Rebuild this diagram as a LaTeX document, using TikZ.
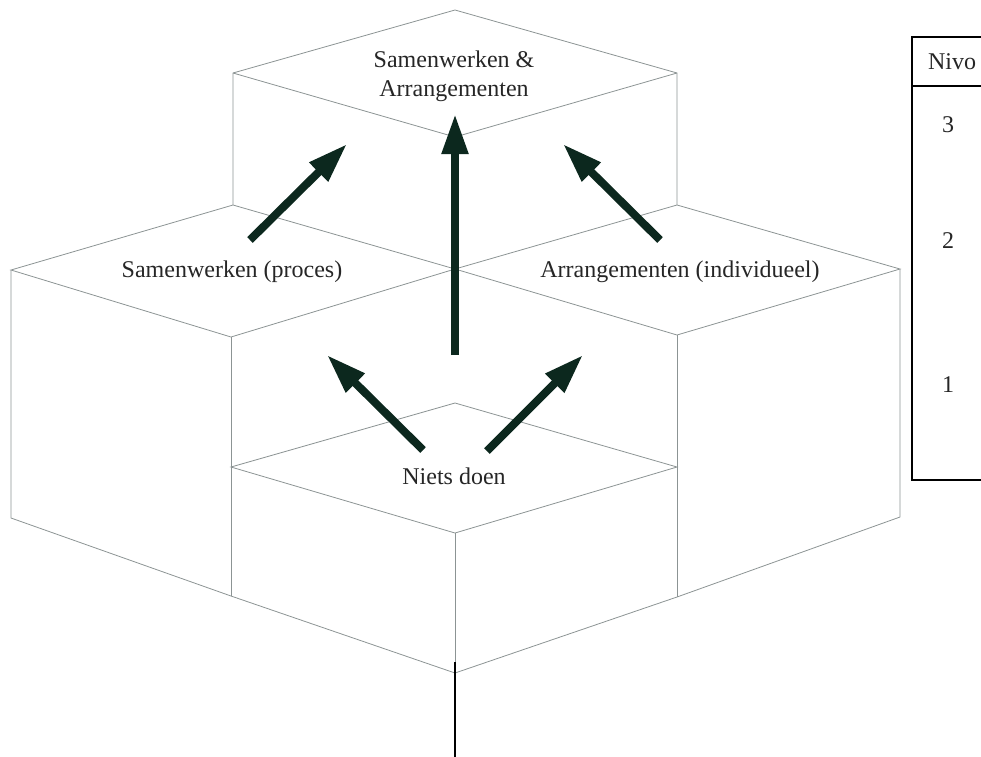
\documentclass[tikz,border=0pt]{standalone}
\usepackage{fontspec}
\setmainfont{Liberation Serif}
\usetikzlibrary{arrows.meta}
\definecolor{edgecol}{RGB}{140,148,148}
\definecolor{arrcol}{RGB}{12,40,30}
\tikzset{
  edge/.style={draw=edgecol, line width=0.8pt, line join=miter},
  bigarrow/.style={draw=arrcol, line width=8pt, -{Triangle[length=40pt,width=25pt]}, arrcol},
  lbl/.style={font=\fontsize{24}{29}\selectfont, text=black!85, inner sep=0pt, align=center},
  tab/.style={draw=black, line width=2.8pt}
}
\begin{document}
\begin{tikzpicture}[x=1pt,y=-1pt]
\useasboundingbox (0,0) rectangle (981,756);
\clip (0,0) rectangle (981,756);
% top cube
\draw[edge] (233,205)--(233,73)--(455,10)--(677,73)--(677,205);
\draw[edge] (233,73)--(455,137)--(677,73);
\draw[edge] (455,137)--(455,269);
% level-2 columns
\draw[edge] (233,205)--(11,270)--(231,337)--(455,269)--cycle;
\draw[edge] (677,205)--(455,269)--(677,335)--(900,269)--cycle;
\draw[edge] (11,270)--(11,518)--(231,596)--(455,673)--(677,597)--(900,517)--(900,269);
\draw[edge] (231,337)--(231,596);
\draw[edge] (677,335)--(677,597);
% level-1 column
\draw[edge] (231,467)--(455,403)--(677,467)--(455,533)--cycle;
\draw[edge] (455,533)--(455,673);
% stem
\coordinate (stemtop) at (455,662);
\coordinate (stembot) at (455,760);
\draw[black, line width=1.3pt] (stemtop)--(stembot);
% labels
\node[lbl] (top) at (454,76) {Samenwerken \&\\Arrangementen};
\node[lbl] (left) at (232,272) {Samenwerken (proces)};
\node[lbl] (right) at (680,272) {Arrangementen (individueel)};
\node[lbl] (bottom) at (454,476) {Niets doen};
% arrow end points
\coordinate (a1s) at (455,355); \coordinate (a1e) at (455,114);
\coordinate (a2s) at (250,240); \coordinate (a2e) at (347,144);
\coordinate (a3s) at (660,240); \coordinate (a3e) at (563,144);
\coordinate (a4s) at (423,450); \coordinate (a4e) at (327,355);
\coordinate (a5s) at (487,451); \coordinate (a5e) at (583,355);
\draw[bigarrow] (a1s)--(a1e);
\draw[bigarrow] (a2s)--(a2e);
\draw[bigarrow] (a3s)--(a3e);
\draw[bigarrow] (a4s)--(a4e);
\draw[bigarrow] (a5s)--(a5e);
% table
\draw[tab] (1000,37)--(912,37)--(912,480)--(1000,480);
\draw[tab] (912,86)--(1000,86);
\node[lbl] (nivo) at (952,62) {Nivo};
\node[lbl] (n3) at (948,125) {3};
\node[lbl] (n2) at (948,241) {2};
\node[lbl] (n1) at (948,385) {1};
\end{tikzpicture}
\end{document}
